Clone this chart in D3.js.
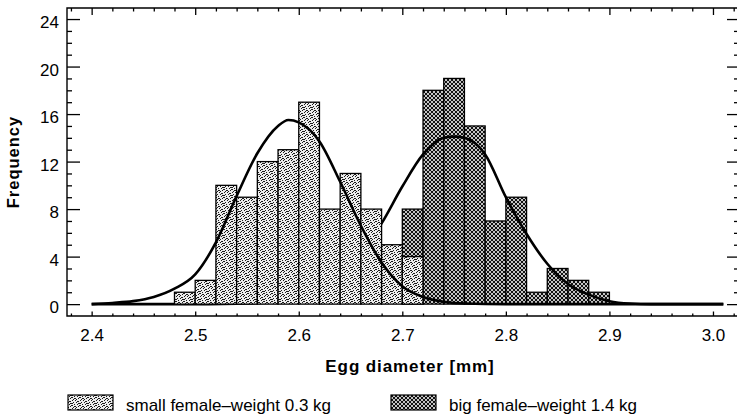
<!DOCTYPE html>
<html>
<head>
<meta charset="utf-8">
<script src="https://cdn.jsdelivr.net/npm/d3@7"></script>
<style>
  html, body { margin: 0; padding: 0; background: #fff; }
  svg { display: block; }
  text { font-family: "Liberation Sans", Arial, sans-serif; fill: #000; }
</style>
</head>
<body>
<svg id="chart" width="737" height="419"></svg>
<script>
// ---- data ----
const binWidth = 0.02;
const smallBinStarts = [2.48, 2.50, 2.52, 2.54, 2.56, 2.58, 2.60, 2.62, 2.64, 2.66, 2.68, 2.70];
const smallCounts    = [1,    2,    10,   9,    12,   13,   17,   8,    11,   8,    5,    4];
const bigBinStarts   = [2.70, 2.72, 2.74, 2.76, 2.78, 2.80, 2.82, 2.84, 2.86, 2.88];
const bigCounts      = [8,    18,   19,   15,   7,    9,    1,    3,    2,    1];

const smallCurveX = [2.40, 2.42, 2.44, 2.46, 2.48, 2.50, 2.52, 2.54, 2.56, 2.58, 2.59, 2.60, 2.62, 2.64, 2.66, 2.68, 2.70, 2.72, 2.74, 2.76, 2.80, 3.01];
const smallCurveY = [0.0,  0.1,  0.25, 0.6,  1.3,  2.5,  5.2,  9.1,  12.7, 15.0, 15.5, 15.3, 13.7, 10.3, 6.6,  3.5,  1.5,  0.6,  0.2,  0.05, 0.0,  0.0];
const bigCurveX = [2.40, 2.50, 2.54, 2.58, 2.60, 2.62, 2.64, 2.66, 2.68, 2.70, 2.72, 2.74, 2.75, 2.76, 2.78, 2.80, 2.82, 2.84, 2.86, 2.88, 2.90, 2.92, 2.94, 3.01];
const bigCurveY = [0.0,  0.0,  0.03, 0.2,  0.5,  1.1,  2.3,  4.3,  6.8,  9.9,  12.6, 14.0, 14.1, 14.0, 12.6, 9.0,  5.9,  3.4,  1.7,  0.8,  0.25, 0.05, 0.0,  0.0];

const yMajorTicks = [0, 4, 8, 12, 16, 20, 24];
const yMinorTicks = [1, 2, 3, 5, 6, 7, 9, 10, 11, 13, 14, 15, 17, 18, 19, 21, 22, 23];
const xMajorTicks = [2.4, 2.5, 2.6, 2.7, 2.8, 2.9, 3.0];
const xTickLabels = ["2.4", "2.5", "2.6", "2.7", "2.8", "2.9", "3.0"];
const xMinorTicks = [2.38, 2.42, 2.44, 2.46, 2.48, 2.52, 2.54, 2.56, 2.58, 2.62, 2.64, 2.66, 2.68, 2.72, 2.74, 2.76, 2.78, 2.82, 2.84, 2.86, 2.88, 2.92, 2.94, 2.96, 2.98, 3.02];

const xTitle = "Egg diameter [mm]";
const yTitle = "Frequency";
const legendLabels = ["small female\u2013weight 0.3 kg", "big female\u2013weight 1.4 kg"];

// ---- layout ----
const L = 67, R = 740, T = 8, B = 316;
const svg = d3.select("#chart");

const x = d3.scaleLinear().domain([2.3762, 3.0261]).range([L, R]);
const y = d3.scaleLinear().domain([-1, 24.93]).range([B, T]);

// patterns
const defs = svg.append("defs");
const stip = defs.append("pattern").attr("id", "stip").attr("patternUnits", "userSpaceOnUse")
  .attr("width", 8).attr("height", 8);
stip.append("rect").attr("width", 8).attr("height", 8).attr("fill", "#ececec");
[[0,0],[3,0],[6,1],[1,2],[4,2],[7,3],[2,4],[5,4],[0,5],[3,6],[6,6],[1,7],[4,7],[7,5],[5,1],[2,6],[6,3],[0,3]]
  .forEach(p => stip.append("rect").attr("x", p[0]).attr("y", p[1]).attr("width", 1).attr("height", 1)
    .attr("fill", "#1a1a1a").attr("shape-rendering", "crispEdges"));

const hatch = defs.append("pattern").attr("id", "hatch").attr("patternUnits", "userSpaceOnUse")
  .attr("width", 4).attr("height", 4);
hatch.append("rect").attr("width", 4).attr("height", 4).attr("fill", "#c4c4c4");
[[0,0],[1,1],[2,2],[3,3],[0,3],[1,2],[2,1],[3,0]]
  .forEach(p => hatch.append("rect").attr("x", p[0]).attr("y", p[1]).attr("width", 1).attr("height", 1)
    .attr("fill", "#111").attr("shape-rendering", "crispEdges"));

// frame
svg.append("path")
  .attr("d", `M${R},${T}H${L}V${B}H${R}`)
  .attr("fill", "none").attr("stroke", "#000").attr("stroke-width", 1.4);

function styleAxis(g) {
  g.select(".domain").remove();
  g.selectAll(".tick line").attr("stroke", "#000").attr("stroke-width", 1.3);
  g.selectAll("text").style("font-size", "17px").attr("fill", "#000");
}

// left axis
svg.append("g").attr("transform", `translate(${L},0)`)
  .call(d3.axisLeft(y).tickValues(yMajorTicks).tickSize(-13).tickPadding(8).tickFormat(d3.format("d")))
  .call(styleAxis)
  .call(g => g.selectAll("text").attr("dy", "0.52em"));
svg.append("g").attr("transform", `translate(${L},0)`)
  .call(d3.axisLeft(y).tickValues(yMinorTicks).tickSize(-5).tickFormat(""))
  .call(styleAxis);
// right axis
svg.append("g").attr("transform", `translate(${R},0)`)
  .call(d3.axisRight(y).tickValues(yMajorTicks).tickSize(-13).tickFormat(""))
  .call(styleAxis);
svg.append("g").attr("transform", `translate(${R},0)`)
  .call(d3.axisRight(y).tickValues(yMinorTicks).tickSize(-6).tickFormat(""))
  .call(styleAxis);
// top axis
svg.append("g").attr("transform", `translate(0,${T})`)
  .call(d3.axisTop(x).tickValues(xMajorTicks).tickSize(-7).tickFormat(""))
  .call(styleAxis);
svg.append("g").attr("transform", `translate(0,${T})`)
  .call(d3.axisTop(x).tickValues(xMinorTicks).tickSize(-3.5).tickFormat(""))
  .call(styleAxis);
// bottom axis
svg.append("g").attr("transform", `translate(0,${B})`)
  .call(d3.axisBottom(x).tickValues(xMajorTicks).tickSize(-4.5).tickPadding(13)
    .tickFormat((d, i) => xTickLabels[i]))
  .call(styleAxis);
svg.append("g").attr("transform", `translate(0,${B})`)
  .call(d3.axisBottom(x).tickValues(xMinorTicks).tickSize(-2.5).tickFormat(""))
  .call(styleAxis);

// bars + curves
const line = d3.line().x(d => x(d[0])).y(d => y(d[1])).curve(d3.curveMonotoneX);

function drawBars(starts, counts, fill) {
  svg.append("g").selectAll("rect").data(starts).join("rect")
    .attr("x", d => x(d))
    .attr("y", (d, i) => y(counts[i]))
    .attr("width", d => x(d + binWidth) - x(d))
    .attr("height", (d, i) => y(0) - y(counts[i]))
    .attr("fill", fill).attr("stroke", "#000").attr("stroke-width", 1.3);
}
function drawCurve(xs, ys) {
  svg.append("path").datum(xs.map((v, i) => [v, ys[i]]))
    .attr("d", line).attr("fill", "none").attr("stroke", "#000")
    .attr("stroke-width", 2.6).attr("stroke-linejoin", "round");
}

drawBars(bigBinStarts, bigCounts, "url(#hatch)");
drawCurve(bigCurveX, bigCurveY);
drawBars(smallBinStarts, smallCounts, "url(#stip)");
drawCurve(smallCurveX, smallCurveY);

// titles
svg.append("text").attr("x", 410).attr("y", 372).attr("text-anchor", "middle")
  .style("font-size", "17px").style("font-weight", "bold").style("letter-spacing", "0.9px")
  .text(xTitle);
svg.append("text").attr("transform", "translate(19,162) rotate(-90)").attr("text-anchor", "middle")
  .style("font-size", "16.5px").style("font-weight", "bold").style("letter-spacing", "1px")
  .text(yTitle);

// legend
const legendX = [68, 391];
const legendFills = ["url(#stip)", "url(#hatch)"];
legendLabels.forEach((lab, i) => {
  svg.append("rect").attr("x", legendX[i]).attr("y", 395).attr("width", 45).attr("height", 15)
    .attr("fill", legendFills[i]).attr("stroke", "#000").attr("stroke-width", 1.2);
  svg.append("text").attr("x", legendX[i] + 58).attr("y", 411)
    .style("font-size", "17px").text(lab);
});
</script>
</body>
</html>
